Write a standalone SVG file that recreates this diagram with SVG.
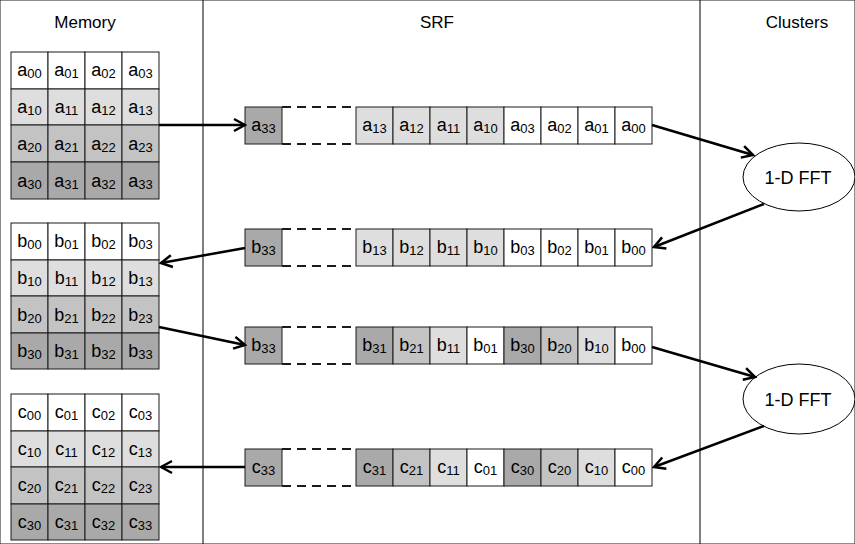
<svg xmlns="http://www.w3.org/2000/svg" width="855" height="544" viewBox="0 0 855 544">
<style>
rect{stroke:#1a1a1a;stroke-width:1}
.w{fill:#ffffff}.l{fill:#dedede}.m{fill:#c3c3c3}.d{fill:#a9a9a9}
text{font-family:"Liberation Sans",Arial,sans-serif;fill:#000}
.t{font-size:18px;text-anchor:middle}
.s{font-size:13px}
.h{font-size:17px;text-anchor:middle}
.f{font-size:18px;text-anchor:middle}
.dash{fill:none;stroke:#1a1a1a;stroke-width:2;stroke-dasharray:9 6}
.ar{fill:none;stroke:#000;stroke-width:2.5;marker-end:url(#ah)}
.sep{stroke:#000;stroke-width:1}
ellipse{fill:#fff;stroke:#000;stroke-width:1}
</style>
<defs>
<marker id="ah" viewBox="0 0 16 16" refX="14" refY="8" markerWidth="16" markerHeight="16" orient="auto" markerUnits="userSpaceOnUse">
<path d="M3,2 L14,8 L3,14" fill="none" stroke="#000" stroke-width="2.5"/>
</marker>
</defs>
<rect width="855" height="544" fill="#fff" stroke="none"/>
<g id="separators">
<line class="sep" x1="203" y1="0" x2="203" y2="544"/>
<line class="sep" x1="700" y1="0" x2="700" y2="544"/>
</g>
<g id="headers">
<text class="h" x="85" y="28">Memory</text>
<text class="h" x="437" y="28">SRF</text>
<text class="h" x="797" y="28">Clusters</text>
</g>
<g id="matrix-a">
<rect class="w" x="11" y="52" width="37" height="37"/><rect class="w" x="48" y="52" width="37" height="37"/><rect class="w" x="85" y="52" width="37" height="37"/><rect class="w" x="122" y="52" width="37" height="37"/>
<rect class="l" x="11" y="89" width="37" height="36"/><rect class="l" x="48" y="89" width="37" height="36"/><rect class="l" x="85" y="89" width="37" height="36"/><rect class="l" x="122" y="89" width="37" height="36"/>
<rect class="m" x="11" y="125" width="37" height="37"/><rect class="m" x="48" y="125" width="37" height="37"/><rect class="m" x="85" y="125" width="37" height="37"/><rect class="m" x="122" y="125" width="37" height="37"/>
<rect class="d" x="11" y="162" width="37" height="37"/><rect class="d" x="48" y="162" width="37" height="37"/><rect class="d" x="85" y="162" width="37" height="37"/><rect class="d" x="122" y="162" width="37" height="37"/>
<text class="t" x="29.5" y="76">a<tspan class="s" dy="2">00</tspan></text><text class="t" x="66.5" y="76">a<tspan class="s" dy="2">01</tspan></text><text class="t" x="103.5" y="76">a<tspan class="s" dy="2">02</tspan></text><text class="t" x="140.5" y="76">a<tspan class="s" dy="2">03</tspan></text>
<text class="t" x="29.5" y="113">a<tspan class="s" dy="2">10</tspan></text><text class="t" x="66.5" y="113">a<tspan class="s" dy="2">11</tspan></text><text class="t" x="103.5" y="113">a<tspan class="s" dy="2">12</tspan></text><text class="t" x="140.5" y="113">a<tspan class="s" dy="2">13</tspan></text>
<text class="t" x="29.5" y="149.5">a<tspan class="s" dy="2">20</tspan></text><text class="t" x="66.5" y="149.5">a<tspan class="s" dy="2">21</tspan></text><text class="t" x="103.5" y="149.5">a<tspan class="s" dy="2">22</tspan></text><text class="t" x="140.5" y="149.5">a<tspan class="s" dy="2">23</tspan></text>
<text class="t" x="29.5" y="186.5">a<tspan class="s" dy="2">30</tspan></text><text class="t" x="66.5" y="186.5">a<tspan class="s" dy="2">31</tspan></text><text class="t" x="103.5" y="186.5">a<tspan class="s" dy="2">32</tspan></text><text class="t" x="140.5" y="186.5">a<tspan class="s" dy="2">33</tspan></text>
</g>
<g id="matrix-b">
<rect class="w" x="11" y="223" width="37" height="37"/><rect class="w" x="48" y="223" width="37" height="37"/><rect class="w" x="85" y="223" width="37" height="37"/><rect class="w" x="122" y="223" width="37" height="37"/>
<rect class="l" x="11" y="260" width="37" height="36"/><rect class="l" x="48" y="260" width="37" height="36"/><rect class="l" x="85" y="260" width="37" height="36"/><rect class="l" x="122" y="260" width="37" height="36"/>
<rect class="m" x="11" y="296" width="37" height="37"/><rect class="m" x="48" y="296" width="37" height="37"/><rect class="m" x="85" y="296" width="37" height="37"/><rect class="m" x="122" y="296" width="37" height="37"/>
<rect class="d" x="11" y="333" width="37" height="36"/><rect class="d" x="48" y="333" width="37" height="36"/><rect class="d" x="85" y="333" width="37" height="36"/><rect class="d" x="122" y="333" width="37" height="36"/>
<text class="t" x="29.5" y="247">b<tspan class="s" dy="2">00</tspan></text><text class="t" x="66.5" y="247">b<tspan class="s" dy="2">01</tspan></text><text class="t" x="103.5" y="247">b<tspan class="s" dy="2">02</tspan></text><text class="t" x="140.5" y="247">b<tspan class="s" dy="2">03</tspan></text>
<text class="t" x="29.5" y="284">b<tspan class="s" dy="2">10</tspan></text><text class="t" x="66.5" y="284">b<tspan class="s" dy="2">11</tspan></text><text class="t" x="103.5" y="284">b<tspan class="s" dy="2">12</tspan></text><text class="t" x="140.5" y="284">b<tspan class="s" dy="2">13</tspan></text>
<text class="t" x="29.5" y="320.5">b<tspan class="s" dy="2">20</tspan></text><text class="t" x="66.5" y="320.5">b<tspan class="s" dy="2">21</tspan></text><text class="t" x="103.5" y="320.5">b<tspan class="s" dy="2">22</tspan></text><text class="t" x="140.5" y="320.5">b<tspan class="s" dy="2">23</tspan></text>
<text class="t" x="29.5" y="357">b<tspan class="s" dy="2">30</tspan></text><text class="t" x="66.5" y="357">b<tspan class="s" dy="2">31</tspan></text><text class="t" x="103.5" y="357">b<tspan class="s" dy="2">32</tspan></text><text class="t" x="140.5" y="357">b<tspan class="s" dy="2">33</tspan></text>
</g>
<g id="matrix-c">
<rect class="w" x="11" y="394" width="37" height="37"/><rect class="w" x="48" y="394" width="37" height="37"/><rect class="w" x="85" y="394" width="37" height="37"/><rect class="w" x="122" y="394" width="37" height="37"/>
<rect class="l" x="11" y="431" width="37" height="36"/><rect class="l" x="48" y="431" width="37" height="36"/><rect class="l" x="85" y="431" width="37" height="36"/><rect class="l" x="122" y="431" width="37" height="36"/>
<rect class="m" x="11" y="467" width="37" height="37"/><rect class="m" x="48" y="467" width="37" height="37"/><rect class="m" x="85" y="467" width="37" height="37"/><rect class="m" x="122" y="467" width="37" height="37"/>
<rect class="d" x="11" y="504" width="37" height="36"/><rect class="d" x="48" y="504" width="37" height="36"/><rect class="d" x="85" y="504" width="37" height="36"/><rect class="d" x="122" y="504" width="37" height="36"/>
<text class="t" x="29.5" y="418">c<tspan class="s" dy="2">00</tspan></text><text class="t" x="66.5" y="418">c<tspan class="s" dy="2">01</tspan></text><text class="t" x="103.5" y="418">c<tspan class="s" dy="2">02</tspan></text><text class="t" x="140.5" y="418">c<tspan class="s" dy="2">03</tspan></text>
<text class="t" x="29.5" y="454.5">c<tspan class="s" dy="2">10</tspan></text><text class="t" x="66.5" y="454.5">c<tspan class="s" dy="2">11</tspan></text><text class="t" x="103.5" y="454.5">c<tspan class="s" dy="2">12</tspan></text><text class="t" x="140.5" y="454.5">c<tspan class="s" dy="2">13</tspan></text>
<text class="t" x="29.5" y="491">c<tspan class="s" dy="2">20</tspan></text><text class="t" x="66.5" y="491">c<tspan class="s" dy="2">21</tspan></text><text class="t" x="103.5" y="491">c<tspan class="s" dy="2">22</tspan></text><text class="t" x="140.5" y="491">c<tspan class="s" dy="2">23</tspan></text>
<text class="t" x="29.5" y="528">c<tspan class="s" dy="2">30</tspan></text><text class="t" x="66.5" y="528">c<tspan class="s" dy="2">31</tspan></text><text class="t" x="103.5" y="528">c<tspan class="s" dy="2">32</tspan></text><text class="t" x="140.5" y="528">c<tspan class="s" dy="2">33</tspan></text>
</g>
<g id="srf-row-1">
<rect class="d" x="245" y="107" width="37" height="37"/>
<path class="dash" d="M282,107 H356 M282,144 H356"/>
<rect class="l" x="356" y="107" width="37" height="37"/><rect class="l" x="393" y="107" width="37" height="37"/><rect class="l" x="430" y="107" width="37" height="37"/><rect class="l" x="467" y="107" width="37" height="37"/>
<rect class="w" x="504" y="107" width="37" height="37"/><rect class="w" x="541" y="107" width="37" height="37"/><rect class="w" x="578" y="107" width="37" height="37"/><rect class="w" x="615" y="107" width="37" height="37"/>
<text class="t" x="263.5" y="131">a<tspan class="s" dy="2">33</tspan></text>
<text class="t" x="374.5" y="131">a<tspan class="s" dy="2">13</tspan></text><text class="t" x="411.5" y="131">a<tspan class="s" dy="2">12</tspan></text><text class="t" x="448.5" y="131">a<tspan class="s" dy="2">11</tspan></text><text class="t" x="485.5" y="131">a<tspan class="s" dy="2">10</tspan></text>
<text class="t" x="522.5" y="131">a<tspan class="s" dy="2">03</tspan></text><text class="t" x="559.5" y="131">a<tspan class="s" dy="2">02</tspan></text><text class="t" x="596.5" y="131">a<tspan class="s" dy="2">01</tspan></text><text class="t" x="633.5" y="131">a<tspan class="s" dy="2">00</tspan></text>
</g>
<g id="srf-row-2">
<rect class="d" x="245" y="229" width="37" height="37"/>
<path class="dash" d="M282,229 H356 M282,266 H356"/>
<rect class="l" x="356" y="229" width="37" height="37"/><rect class="l" x="393" y="229" width="37" height="37"/><rect class="l" x="430" y="229" width="37" height="37"/><rect class="l" x="467" y="229" width="37" height="37"/>
<rect class="w" x="504" y="229" width="37" height="37"/><rect class="w" x="541" y="229" width="37" height="37"/><rect class="w" x="578" y="229" width="37" height="37"/><rect class="w" x="615" y="229" width="37" height="37"/>
<text class="t" x="263.5" y="253">b<tspan class="s" dy="2">33</tspan></text>
<text class="t" x="374.5" y="253">b<tspan class="s" dy="2">13</tspan></text><text class="t" x="411.5" y="253">b<tspan class="s" dy="2">12</tspan></text><text class="t" x="448.5" y="253">b<tspan class="s" dy="2">11</tspan></text><text class="t" x="485.5" y="253">b<tspan class="s" dy="2">10</tspan></text>
<text class="t" x="522.5" y="253">b<tspan class="s" dy="2">03</tspan></text><text class="t" x="559.5" y="253">b<tspan class="s" dy="2">02</tspan></text><text class="t" x="596.5" y="253">b<tspan class="s" dy="2">01</tspan></text><text class="t" x="633.5" y="253">b<tspan class="s" dy="2">00</tspan></text>
</g>
<g id="srf-row-3">
<rect class="d" x="245" y="327" width="37" height="37"/>
<path class="dash" d="M282,327 H356 M282,364 H356"/>
<rect class="d" x="356" y="327" width="37" height="37"/><rect class="m" x="393" y="327" width="37" height="37"/><rect class="l" x="430" y="327" width="37" height="37"/><rect class="w" x="467" y="327" width="37" height="37"/>
<rect class="d" x="504" y="327" width="37" height="37"/><rect class="m" x="541" y="327" width="37" height="37"/><rect class="l" x="578" y="327" width="37" height="37"/><rect class="w" x="615" y="327" width="37" height="37"/>
<text class="t" x="263.5" y="351">b<tspan class="s" dy="2">33</tspan></text>
<text class="t" x="374.5" y="351">b<tspan class="s" dy="2">31</tspan></text><text class="t" x="411.5" y="351">b<tspan class="s" dy="2">21</tspan></text><text class="t" x="448.5" y="351">b<tspan class="s" dy="2">11</tspan></text><text class="t" x="485.5" y="351">b<tspan class="s" dy="2">01</tspan></text>
<text class="t" x="522.5" y="351">b<tspan class="s" dy="2">30</tspan></text><text class="t" x="559.5" y="351">b<tspan class="s" dy="2">20</tspan></text><text class="t" x="596.5" y="351">b<tspan class="s" dy="2">10</tspan></text><text class="t" x="633.5" y="351">b<tspan class="s" dy="2">00</tspan></text>
</g>
<g id="srf-row-4">
<rect class="d" x="245" y="449" width="37" height="37"/>
<path class="dash" d="M282,449 H356 M282,486 H356"/>
<rect class="d" x="356" y="449" width="37" height="37"/><rect class="m" x="393" y="449" width="37" height="37"/><rect class="l" x="430" y="449" width="37" height="37"/><rect class="w" x="467" y="449" width="37" height="37"/>
<rect class="d" x="504" y="449" width="37" height="37"/><rect class="m" x="541" y="449" width="37" height="37"/><rect class="l" x="578" y="449" width="37" height="37"/><rect class="w" x="615" y="449" width="37" height="37"/>
<text class="t" x="263.5" y="473">c<tspan class="s" dy="2">33</tspan></text>
<text class="t" x="374.5" y="473">c<tspan class="s" dy="2">31</tspan></text><text class="t" x="411.5" y="473">c<tspan class="s" dy="2">21</tspan></text><text class="t" x="448.5" y="473">c<tspan class="s" dy="2">11</tspan></text><text class="t" x="485.5" y="473">c<tspan class="s" dy="2">01</tspan></text>
<text class="t" x="522.5" y="473">c<tspan class="s" dy="2">30</tspan></text><text class="t" x="559.5" y="473">c<tspan class="s" dy="2">20</tspan></text><text class="t" x="596.5" y="473">c<tspan class="s" dy="2">10</tspan></text><text class="t" x="633.5" y="473">c<tspan class="s" dy="2">00</tspan></text>
</g>
<g id="fft-1">
<ellipse cx="799" cy="177" rx="56" ry="34"/>
<text class="f" x="798" y="184">1-D FFT</text>
</g>
<g id="fft-2">
<ellipse cx="799" cy="399" rx="56" ry="35"/>
<text class="f" x="798" y="406">1-D FFT</text>
</g>
<g id="connectors">
<path class="ar" d="M159,125 L245,125"/>
<path class="ar" d="M652,125 L753,155"/>
<path class="ar" d="M764,204 L654,247"/>
<path class="ar" d="M245,248 L161,263"/>
<path class="ar" d="M159,327 L245,345"/>
<path class="ar" d="M652,347 L755,377"/>
<path class="ar" d="M764,426 L654,467"/>
<path class="ar" d="M245,467 L161,467"/>
</g>
</svg>
